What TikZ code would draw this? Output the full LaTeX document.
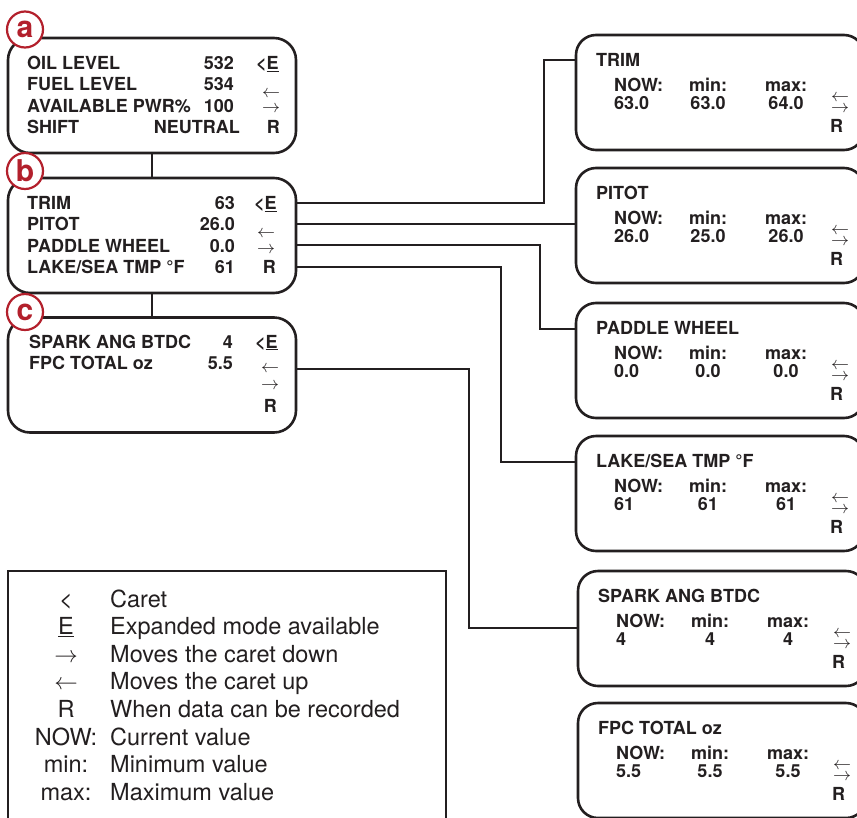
\documentclass[tikz,border=0pt]{standalone}
\usepackage{fontspec}
\setmainfont{TeX Gyre Heros}
\DeclareFontShape{OMS}{cmsy}{m}{n}{<->cmsy10}{}
\usepackage{xcolor}
\definecolor{TagRed}{HTML}{B3202C}
\definecolor{InkGrey}{HTML}{231F20}
\usepackage{tikz}
\usetikzlibrary{positioning}

\begin{document}
\begin{tikzpicture}[
    x=1pt, y=-1pt,
    menu/.style={
      draw=InkGrey, line width=2.6pt, rounded corners=22pt,
      minimum width=288pt, minimum height=115pt, inner sep=0pt
    },
    detail/.style={menu, rounded corners=20pt},
    keybox/.style={draw=InkGrey, line width=2pt,
      minimum width=438pt, minimum height=258pt, inner sep=0pt},
    tag/.style={
      circle, draw=TagRed, fill=white, line width=2.2pt,
      minimum size=36pt, inner sep=0pt, text=TagRed,
      font=\fontsize{30}{30}\selectfont\bfseries
    },
    txt/.style={inner sep=0pt, text=InkGrey,
      font=\fontsize{18}{20}\selectfont\bfseries},
    arw/.style={txt, anchor=base},
    key/.style={inner sep=0pt, text=InkGrey,
      font=\fontsize{23.5}{26}\selectfont},
    conn/.style={draw=InkGrey, line width=2pt}
  ]
    \useasboundingbox (0,0) rectangle (857,817);

    % menu screens a, b, c
    \node[menu] (a) at (152,95.5) {};
    \node[menu] (b) at (152,235.5) {};
    \node[menu] (c) at (152,375) {};
    \draw[conn] (a.south) -- (b.north);
    \draw[conn] (b.south) -- (c.north);

    \node[txt, anchor=base west] (aOil) at (27,69.3) {OIL LEVEL};
    \node[txt, anchor=base east] (aOilV) at (234,69.3) {532};
    \node[txt, anchor=base west] (aFuel) at (27,90.6) {FUEL LEVEL};
    \node[txt, anchor=base east] (aFuelV) at (234,90.6) {534};
    \node[txt, anchor=base west] (aPwr) at (27,112) {AVAILABLE PWR\%};
    \node[txt, anchor=base east] (aPwrV) at (234,112) {100};
    \node[txt, anchor=base west] (aShift) at (27,133.3) {SHIFT};
    \node[txt, anchor=base east] (aShiftV) at (240,133.3) {NEUTRAL};
    \node[txt, anchor=base west] (aCaret) at (256,69.3) {<\underline{E}};
    \node[arw] (aUp) at (271,97.5) {$\leftarrow$};
    \node[arw] (aDown) at (271,112.5) {$\rightarrow$};
    \node[txt, anchor=base east] (aRec) at (280,133.3) {R};

    \node[txt, anchor=base west] (bTrim) at (27,209.3) {TRIM};
    \node[txt, anchor=base east] (bTrimV) at (235,209.3) {63};
    \node[txt, anchor=base west] (bPitot) at (27,230.6) {PITOT};
    \node[txt, anchor=base east] (bPitotV) at (235,230.6) {26.0};
    \node[txt, anchor=base west] (bPaddle) at (27,252) {PADDLE WHEEL};
    \node[txt, anchor=base east] (bPaddleV) at (235,252) {0.0};
    \node[txt, anchor=base west] (bLake) at (27,273.3) {LAKE/SEA TMP °F};
    \node[txt, anchor=base east] (bLakeV) at (235,273.3) {61};
    \node[txt, anchor=base west] (bCaret) at (254,209.3) {<\underline{E}};
    \node[arw] (bUp) at (266,237.5) {$\leftarrow$};
    \node[arw] (bDown) at (266,253.5) {$\rightarrow$};
    \node[txt, anchor=base east] (bRec) at (276,273.3) {R};

    \node[txt, anchor=base west] (cSpark) at (29,348) {SPARK ANG BTDC};
    \node[txt, anchor=base east] (cSparkV) at (233,348) {4};
    \node[txt, anchor=base west] (cFpc) at (29,369.5) {FPC TOTAL oz};
    \node[txt, anchor=base east] (cFpcV) at (233,369.5) {5.5};
    \node[txt, anchor=base west] (cCaret) at (255,348) {<\underline{E}};
    \node[arw] (cUp) at (270,372.5) {$\leftarrow$};
    \node[arw] (cDown) at (270,389.5) {$\rightarrow$};
    \node[txt, anchor=base east] (cRec) at (277,412) {R};

    \node[tag] (tagA) at (25,29.5) {a};
    \node[tag] (tagB) at (25,171) {b};
    \node[tag] (tagC) at (25,312) {c};

    % expanded screens
    \foreach \nm/\xl/\yt/\ttl/\vnow/\vmin/\vmax in {
        trim/576/35/TRIM/63.0/63.0/64.0,
        pitot/576/168/PITOT/26.0/25.0/26.0,
        paddle/576/303/PADDLE WHEEL/0.0/0.0/0.0,
        lake/576/436/{LAKE/SEA TMP °F}/61/61/61,
        spark/578/571/SPARK ANG BTDC/4/4/4,
        fpc/578/703/FPC TOTAL oz/5.5/5.5/5.5}{
      \node[detail] (\nm) at (\xl+144,\yt+57.5) {};
      \node[txt, anchor=base west] (\nm-title) at (\xl+20,\yt+31) {\ttl};
      \node[txt, anchor=base west] (\nm-now) at (\xl+38,\yt+56) {NOW:};
      \node[txt, anchor=base] (\nm-min) at (\xl+132,\yt+56) {min:};
      \node[txt, anchor=base] (\nm-max) at (\xl+210,\yt+56) {max:};
      \node[txt, anchor=base west] (\nm-nowv) at (\xl+38,\yt+74) {\vnow};
      \node[txt, anchor=base] (\nm-minv) at (\xl+132,\yt+74) {\vmin};
      \node[txt, anchor=base] (\nm-maxv) at (\xl+210,\yt+74) {\vmax};
      \node[arw] (\nm-up) at (\xl+264,\yt+66.5) {$\leftarrow$};
      \node[arw] (\nm-down) at (\xl+264,\yt+77.5) {$\rightarrow$};
      \node[txt, anchor=base west] (\nm-rec) at (\xl+254,\yt+97) {R};
    }

    % connectors
    \coordinate (jTrim) at (544,60);
    \coordinate (jPaddle) at (540,329);
    \coordinate (jLake) at (501,462);
    \coordinate (jSpark) at (469,628);
    \draw[conn] (bTrim -| b.east) -| (jTrim) -- (jTrim -| trim.west);
    \draw[conn] (bPitot -| b.east) -- (bPitot -| pitot.west);
    \draw[conn] (bPaddle -| b.east) -| (jPaddle) -- (jPaddle -| paddle.west);
    \draw[conn] (bLake -| b.east) -| (jLake) -- (jLake -| lake.west);
    \draw[conn] (cUp -| c.east) -| (jSpark) -- (jSpark -| spark.west);

    % legend
    \node[keybox] (key) at (227,700) {};
    \foreach \sym/\desc [count=\i from 0] in {
        {<}/Caret,
        \underline{E}/Expanded mode available,
        $\rightarrow$/Moves the caret down,
        $\leftarrow$/Moves the caret up,
        R/When data can be recorded,
        NOW:/Current value,
        min:/Minimum value,
        max:/Maximum value}{
      \node[key, anchor=base] (sym\i) at (66,607+27.6*\i) {\sym};
      \node[key, anchor=base west] (desc\i) at (110,607+27.6*\i) {\desc};
    }
\end{tikzpicture}
\end{document}
